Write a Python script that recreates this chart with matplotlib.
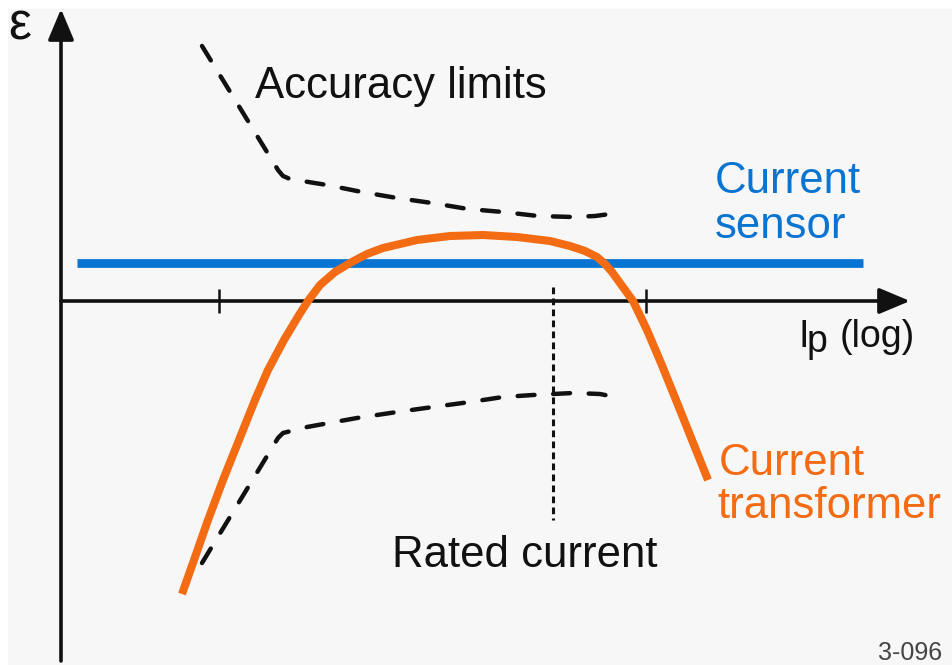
import matplotlib
matplotlib.use("Agg")
import matplotlib.pyplot as plt
from matplotlib.patches import Rectangle

plt.rcParams["font.family"] = ["Liberation Sans", "DejaVu Sans"]

# Schematic: ratio error (epsilon) versus primary current on a log axis.
# x is measured in decades from the origin, y in error units.

# Current transformer error curve
ct_logI = [1.21, 1.33, 1.47, 1.62, 1.78, 1.94, 2.07, 2.23, 2.38, 2.47, 2.59,
           2.74, 2.89, 3.06, 3.22, 3.56, 3.89, 4.22, 4.56, 4.89, 5.09, 5.24,
           5.36, 5.44, 5.51, 5.59, 5.72, 5.86, 6.00, 6.15, 6.31, 6.47]
ct_err = [-2.93, -2.59, -2.19, -1.79, -1.39, -0.99, -0.69, -0.39, -0.14, 0.00, 0.16,
          0.29, 0.38, 0.47, 0.53, 0.61, 0.65, 0.66, 0.64, 0.60, 0.55, 0.50,
          0.44, 0.37, 0.29, 0.18, 0.00, -0.29, -0.62, -0.99, -1.39, -1.79]

# Upper accuracy limit
upper_logI = [1.41, 2.17, 2.22, 2.29, 2.66, 3.01, 3.36, 3.71, 4.07, 4.42, 4.77,
              5.12, 5.34, 5.49, 5.59]
upper_err = [2.55, 1.31, 1.25, 1.22, 1.16, 1.09, 1.03, 0.98, 0.92, 0.89, 0.85,
             0.84, 0.85, 0.87, 0.90]

# Lower accuracy limit
lower_logI = [1.41, 2.17, 2.22, 2.34, 2.46, 2.96, 3.36, 3.72, 4.09, 4.42, 4.72,
              5.12, 5.39, 5.59]
lower_err = [-2.62, -1.37, -1.32, -1.29, -1.26, -1.17, -1.11, -1.06, -1.01, -0.96,
             -0.94, -0.92, -0.93, -0.97]

# Current sensor (constant error)
sensor_logI = [0.16, 8.02]
sensor_err = [0.38, 0.38]

# Rated current and the decade ticks on the current axis
rated_logI = 4.92
rated_span = [0.14, -2.19]
tick_logI = [1.58, 5.85]

BLUE = "#0a74d2"
ORANGE = "#f36b12"
INK = "#111111"

fig = plt.figure(figsize=(9.53, 6.65), dpi=100)
ax = fig.add_axes([0, 0, 1, 1])
ax.set_xlim(-0.61, 8.92)
ax.set_ylim(-3.64, 3.01)
ax.axis("off")
ax.add_patch(Rectangle((8 / 953, 0), 1, (665 - 9) / 665, transform=fig.transFigure,
                       color="#f7f7f7", zorder=0, clip_on=False))

# Axes with arrow heads
arrow = dict(arrowstyle="-|>,head_length=1.0,head_width=0.42", mutation_scale=19,
             lw=2.6, color=INK, shrinkA=0, shrinkB=0)
ax.annotate("", xy=(8.49, 0), xytext=(0, 0), arrowprops=arrow, zorder=3)
ax.annotate("", xy=(0, 2.92), xytext=(0, -3.60), arrowprops=arrow, zorder=3)
for t in tick_logI:
    ax.plot([t, t], [0.12, -0.12], color=INK, lw=1.8, solid_capstyle="butt", zorder=3)

# Rated current marker
ax.plot([rated_logI, rated_logI], rated_span, color=INK, lw=2.2,
        linestyle=(0, (2.2, 1.4)), zorder=2)

# Accuracy limits
for xs, ys in ((upper_logI, upper_err), (lower_logI, lower_err)):
    ax.plot(xs, ys, color=INK, lw=3.2, linestyle=(0, (3.8, 4.2)),
            dash_capstyle="round", dash_joinstyle="round", zorder=2)

# Current sensor
ax.plot(sensor_logI, sensor_err, color=BLUE, lw=6.3, solid_capstyle="butt", zorder=4)

# Current transformer
ax.plot(ct_logI, ct_err, color=ORANGE, lw=5.8, solid_capstyle="butt",
        solid_joinstyle="round", zorder=5)

fs = 31.5
ax.text(-0.53, 2.62, "ε", fontsize=37, color=INK, va="baseline", ha="left")
ax.text(1.94, 2.03, "Accuracy limits", fontsize=fs, color=INK, va="baseline")
ax.text(6.54, 1.08, "Current", fontsize=fs, color=BLUE, va="baseline")
ax.text(6.54, 0.63, "sensor", fontsize=fs, color=BLUE, va="baseline")
ax.text(3.31, -2.66, "Rated current", fontsize=fs, color=INK, va="baseline")
ax.text(6.58, -1.74, "Current", fontsize=fs, color=ORANGE, va="baseline")
ax.text(6.56, -2.17, "transformer", fontsize=fs, color=ORANGE, va="baseline")
ax.text(7.37, -0.46, "I", fontsize=27, color=INK, va="baseline")
ax.text(7.46, -0.51, "p", fontsize=27, color=INK, va="baseline")
ax.text(7.79, -0.46, "(log)", fontsize=27, color=INK, va="baseline")
ax.text(8.17, -3.59, "3-096", fontsize=18, color="#444444", va="baseline")

fig.savefig("out.png", dpi=100)
